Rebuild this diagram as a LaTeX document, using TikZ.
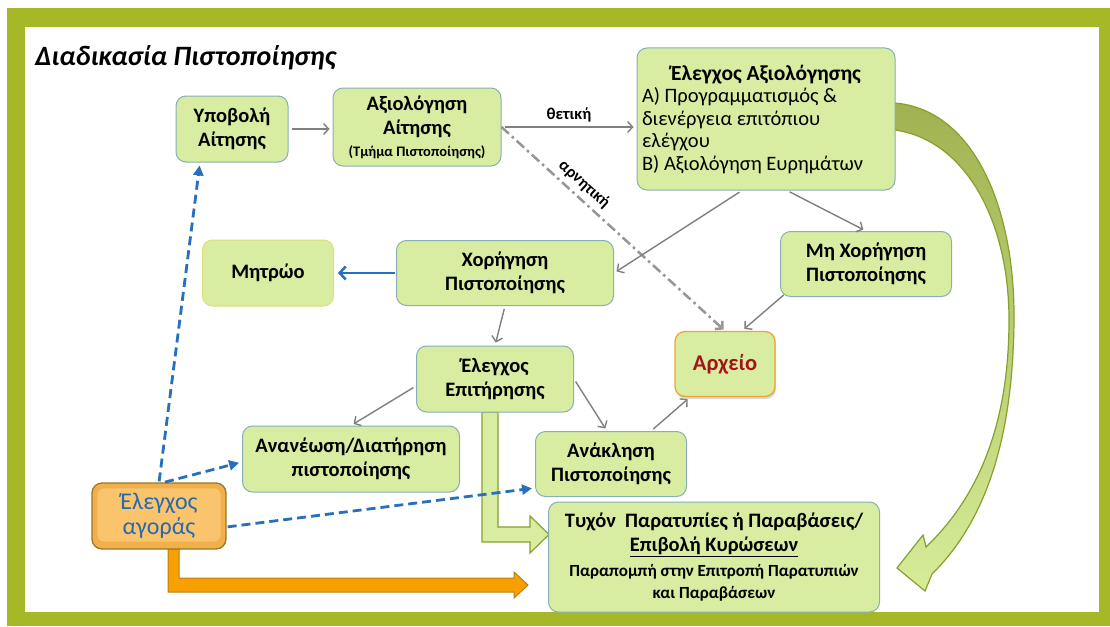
\documentclass[tikz,border=0pt]{standalone}
\usepackage{fontspec}
\setmainfont{Carlito}
\usetikzlibrary{arrows.meta,shadows,calc}
\definecolor{framegreen}{RGB}{166,184,40}
\definecolor{boxfill}{RGB}{216,236,162}
\definecolor{boxline}{RGB}{135,175,180}
\definecolor{regline}{RGB}{222,222,120}
\definecolor{arrowgray}{RGB}{128,128,128}
\definecolor{dashgray}{RGB}{150,150,150}
\definecolor{blueA}{RGB}{38,112,190}
\definecolor{orangeA}{RGB}{247,160,0}
\definecolor{orangeB}{RGB}{190,125,20}
\definecolor{mkfill}{RGB}{242,176,76}
\definecolor{mkinner}{RGB}{249,196,108}
\definecolor{mkline}{RGB}{150,120,40}
\definecolor{mktext}{RGB}{40,105,175}
\definecolor{archline}{RGB}{240,165,50}
\definecolor{archtext}{RGB}{165,20,25}
\definecolor{greenline}{RGB}{135,160,45}
\definecolor{curvetop}{RGB}{160,178,80}
\definecolor{curvebot}{RGB}{214,236,152}
\tikzset{
  box/.style={draw=boxline, fill=boxfill, rounded corners=10pt, line width=1pt,
    align=center, font=\bfseries\fontsize{20.5}{24}\selectfont, inner sep=3pt},
  garrow/.style={draw=arrowgray, line width=1.4pt,
    -{Straight Barb[length=5pt,width=11pt]}, shorten >=3pt, shorten <=3pt},
  negline/.style={draw=dashgray, line width=2.5pt, dash pattern=on 10pt off 4pt on 2.5pt off 4pt,
    -{Straight Barb[length=5pt,width=11pt]}, shorten >=2pt},
  bluedash/.style={draw=blueA, line width=2.8pt, dash pattern=on 9pt off 5pt,
    -{Triangle[length=10pt,width=10pt]}, shorten >=3pt, shorten <=1pt},
  bluesolid/.style={draw=blueA, line width=2.5pt,
    -{Straight Barb[length=6pt,width=13pt]}, shorten >=4pt, shorten <=1pt},
  lbl/.style={font=\bfseries\fontsize{16.5}{18}\selectfont, inner sep=1pt},
}
\begin{document}
\begin{tikzpicture}[x=1pt,y=-1pt]
\useasboundingbox (0,0) rectangle (1110,626);
% frame
\fill[framegreen] (7,8) rectangle (1110,626);
\fill[white] (25,27) rectangle (1099,612);

\node[anchor=base west, font=\bfseries\itshape\fontsize{28}{32}\selectfont, inner sep=0pt] (title) at (35,66) {Διαδικασία Πιστοποίησης};

% block arrows
\draw[draw=greenline, fill=boxfill, line width=1.2pt, line join=miter]
  (482,412) -- (498,412) -- (498,527) -- (530,527) -- (530,516) -- (549,534.5)
  -- (530,553) -- (530,542) -- (482,542) -- cycle;
\draw[draw=orangeB, fill=orangeA, line width=1pt, line join=miter]
  (168,549) -- (179,549) -- (179,578) -- (514,578) -- (514,572) -- (528,585)
  -- (514,598) -- (514,592) -- (168,592) -- cycle;
% curved arrow
\shadedraw[draw=greenline, line width=1.2pt, top color=curvetop, bottom color=curvebot, line join=miter]
  (895,103) .. controls (975,110) and (1015,210) .. (1014,320)
  .. controls (1013,440) and (985,522) .. (932,574)
  -- (925,591) -- (897,568) -- (923,535) -- (926,547)
  .. controls (975,500) and (1009,430) .. (1009,320)
  .. controls (1009,220) and (965,140) .. (895,130) -- cycle;

% nodes
\node[box, minimum width=112, minimum height=66] (sub) at (232,129) {Υποβολή\\Αίτησης};
\node[box, minimum width=168, minimum height=78] (eval) at (417,127)
  {Αξιολόγηση\\Αίτησης\\[-2pt]{\fontsize{14.5}{16}\selectfont (Τμήμα Πιστοποίησης)}};
\node[box, minimum width=258, minimum height=142, text width=248, inner sep=4pt, align=flush left,
  font=\fontsize{20.5}{22.5}\selectfont] (ctrl) at (766,119)
  {{\centering\bfseries\fontsize{21.5}{24}\selectfont Έλεγχος Αξιολόγησης\par}
   Α) Προγραμματισμός \&\\ διενέργεια επιτόπιου\\ ελέγχου\\ Β) Αξιολόγηση Ευρημάτων};
\node[box, minimum width=217, minimum height=65] (grant) at (505,273) {Χορήγηση\\Πιστοποίησης};
\node[box, draw=regline, minimum width=131, minimum height=66] (reg) at (268,273) {Μητρώο};
\node[box, minimum width=171, minimum height=65] (deny) at (866,264) {Μη Χορήγηση\\Πιστοποίησης};
\node[box, draw=archline, line width=1.3pt, minimum width=100, minimum height=65,
  text=archtext, font=\bfseries\fontsize{22.5}{25}\selectfont,
  drop shadow={shadow xshift=1pt, shadow yshift=-2.5pt, opacity=0.3}] (arch) at (725,364) {Αρχείο};
\node[box, minimum width=157, minimum height=66] (mon) at (495,379) {Έλεγχος\\Επιτήρησης};
\node[box, minimum width=217, minimum height=66] (renew) at (351,459) {Ανανέωση/Διατήρηση\\πιστοποίησης};
\node[box, minimum width=151, minimum height=65] (revoke) at (611,464) {Ανάκληση\\Πιστοποίησης};
\node[box, minimum width=331, minimum height=110] (out) at (714,557)
  {Τυχόν\ \ Παρατυπίες ή Παραβάσεις/\\ \underline{Επιβολή Κυρώσεων}\\[1pt]
   {\fontsize{17}{19}\selectfont Παραπομπή στην Επιτροπή Παρατυπιών}\\[-2pt]
   {\fontsize{17}{19}\selectfont και Παραβάσεων}};
% market
\node[draw=mkline, fill=mkfill, line width=1.3pt, rounded corners=10pt,
  minimum width=134, minimum height=66] (market) at (159,516) {};
\fill[mkinner, rounded corners=7pt] ($(market.north west)+(6,6)$) rectangle ($(market.south east)+(-6,-8)$);
\node[align=center, text=mktext, font=\fontsize{24}{25}\selectfont] (mtext) at (market.center) {Έλεγχος\\αγοράς};

% connectors
\draw[garrow] (sub.east) -- (sub.east -| eval.west);
\draw[garrow] (eval.east) -- (eval.east -| ctrl.west)
  node[lbl, pos=0.5, anchor=south, yshift=3pt] {θετική};
\draw[negline] (eval.east) -- (arch.north)
  node[lbl, pos=0.33, sloped, anchor=south, yshift=4pt] {αρνητική};
\draw[garrow] ([xshift=-24pt]ctrl.south) -- (grant.east);
\draw[garrow] ([xshift=21pt]ctrl.south) -- (deny.north);
\draw[garrow] ([xshift=6pt,yshift=4pt]deny.south west) -- ([xshift=17pt]arch.north);
\draw[garrow] (grant.south) -- (mon.north);
\draw[bluesolid] (grant.west) -- (reg.east);
\draw[garrow] ([yshift=-7pt]mon.west) -- (renew.north);
\draw[garrow] (mon.east) -- ([xshift=-4pt]revoke.north);
\draw[garrow] ([xshift=40pt]revoke.north) -- ([xshift=-35pt]arch.south);
\draw[bluedash] (market.north) -- ([xshift=-32pt]sub.south);
\draw[bluedash] ([xshift=5pt]market.north) -- ([yshift=-3pt]renew.west);
\draw[bluedash] ([yshift=-11pt]market.east) -- ([yshift=-24pt]revoke.west);
\end{tikzpicture}
\end{document}
